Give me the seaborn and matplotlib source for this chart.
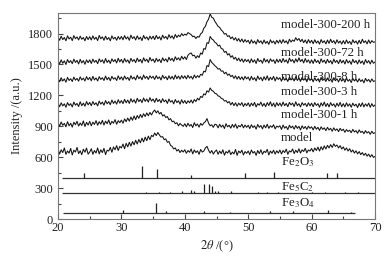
import numpy as np
import matplotlib
matplotlib.use("Agg")
import matplotlib.pyplot as plt
from matplotlib.ticker import MultipleLocator
import seaborn as sns

# 2theta grid, 0.25 deg steps
two_theta = np.arange(20, 70.001, 0.25)

model = [680, 630, 672, 645, 690, 628, 660, 640, 685, 622, 668, 650, 695, 635, 662, 625, 678, 648, 688, 630,
         650, 682, 628, 665, 640, 690, 632, 672, 645, 686, 625, 668, 660, 695, 648, 700, 672, 712, 665, 705,
         690, 728, 682, 735, 700, 745, 708, 752, 720, 765, 728, 772, 740, 785, 748, 795, 760, 805, 770, 812,
         800, 835, 810, 840, 815, 795, 800, 770, 778, 745, 752, 715, 705, 680, 690, 660, 675, 645, 668, 650,
         672, 638, 665, 648, 680, 632, 670, 645, 662, 628, 675, 650, 660, 690, 705, 668, 640, 665, 630, 655,
         670, 628, 660, 635, 672, 620, 655, 640, 668, 625, 650, 632, 675, 618, 660, 642, 668, 622, 655, 638,
         660, 625, 670, 640, 655, 618, 665, 635, 672, 628, 658, 645, 676, 622, 660, 638, 668, 630, 662, 640,
         670, 632, 665, 645, 678, 628, 662, 650, 680, 635, 668, 645, 682, 640, 672, 655, 686, 642, 670, 660,
         685, 652, 690, 665, 698, 660, 702, 672, 710, 680, 715, 690, 722, 695, 730, 705, 718, 690, 712, 680,
         700, 668, 690, 660, 682, 650, 670, 640, 662, 632, 655, 625, 645, 618, 638, 610, 630, 602, 625, 598,
         608]

h1 = [935, 900, 942, 910, 928, 895, 945, 905, 930, 892, 940, 915, 948, 902, 932, 908, 952, 898, 938, 912,
      948, 905, 940, 918, 955, 910, 945, 920, 958, 912, 950, 925, 962, 915, 948, 930, 965, 920, 955, 935,
      960, 930, 972, 945, 980, 950, 990, 958, 1000, 965, 1005, 978, 1015, 985, 1022, 995, 1030, 1002, 1035, 1010,
      1040, 1058, 1030, 1050, 1020, 1035, 1000, 1012, 985, 995, 962, 975, 945, 950, 925, 935, 905, 928, 912, 900,
      925, 895, 930, 902, 918, 888, 935, 905, 922, 892, 928, 910, 932, 945, 975, 930, 905, 915, 890, 920,
      915, 885, 920, 892, 912, 878, 925, 895, 910, 882, 918, 890, 922, 880, 908, 895, 920, 885, 912, 890,
      910, 878, 915, 888, 905, 872, 918, 890, 908, 875, 912, 885, 920, 880, 905, 890, 915, 875, 902, 892,
      905, 870, 912, 882, 898, 868, 910, 885, 902, 872, 908, 880, 900, 865, 905, 878, 898, 870, 902, 880,
      895, 865, 900, 872, 890, 860, 895, 870, 885, 858, 890, 865, 880, 852, 885, 860, 875, 848, 880, 858,
      872, 842, 868, 850, 862, 838, 870, 845, 858, 832, 865, 840, 852, 828, 858, 835, 848, 822, 852, 830,
      838]

h3 = [1125, 1090, 1128, 1098, 1118, 1085, 1130, 1102, 1120, 1088, 1135, 1105, 1122, 1092, 1138, 1100, 1125, 1095, 1140, 1108,
      1132, 1100, 1140, 1110, 1128, 1098, 1145, 1115, 1135, 1105, 1150, 1118, 1140, 1110, 1155, 1122, 1145, 1115, 1158, 1125,
      1150, 1120, 1162, 1128, 1155, 1122, 1168, 1135, 1158, 1125, 1172, 1140, 1160, 1130, 1175, 1142, 1165, 1135, 1178, 1145,
      1165, 1132, 1172, 1140, 1160, 1128, 1168, 1138, 1155, 1122, 1165, 1135, 1150, 1118, 1160, 1130, 1148, 1115, 1158, 1125,
      1150, 1120, 1148, 1128, 1155, 1125, 1160, 1140, 1172, 1155, 1190, 1180, 1215, 1205, 1245, 1232, 1272, 1248, 1240, 1220,
      1215, 1195, 1190, 1172, 1165, 1145, 1150, 1128, 1140, 1108, 1132, 1100, 1128, 1095, 1125, 1105, 1130, 1092, 1122, 1100,
      1128, 1092, 1125, 1100, 1132, 1088, 1120, 1105, 1135, 1095, 1122, 1090, 1130, 1102, 1138, 1095, 1125, 1088, 1130, 1100,
      1126, 1095, 1135, 1100, 1122, 1090, 1132, 1108, 1125, 1092, 1138, 1100, 1120, 1088, 1130, 1105, 1122, 1092, 1128, 1098,
      1125, 1090, 1130, 1102, 1120, 1085, 1128, 1098, 1135, 1092, 1122, 1088, 1130, 1100, 1118, 1086, 1125, 1095, 1132, 1090,
      1120, 1088, 1128, 1095, 1118, 1085, 1125, 1098, 1115, 1082, 1122, 1092, 1128, 1088, 1118, 1095, 1125, 1085, 1120, 1092,
      1108]

h8 = [1365, 1332, 1372, 1340, 1360, 1328, 1375, 1345, 1362, 1335, 1378, 1348, 1365, 1338, 1380, 1350, 1368, 1340, 1382, 1352,
      1375, 1342, 1385, 1350, 1370, 1340, 1382, 1355, 1372, 1345, 1388, 1352, 1375, 1342, 1385, 1358, 1372, 1345, 1390, 1355,
      1380, 1348, 1388, 1358, 1375, 1345, 1392, 1360, 1378, 1350, 1395, 1362, 1382, 1352, 1398, 1365, 1385, 1355, 1390, 1368,
      1385, 1355, 1392, 1362, 1380, 1350, 1395, 1365, 1382, 1352, 1390, 1360, 1385, 1355, 1398, 1362, 1388, 1358, 1392, 1365,
      1390, 1360, 1395, 1368, 1385, 1358, 1398, 1370, 1392, 1375, 1405, 1395, 1435, 1428, 1490, 1480, 1548, 1520, 1505, 1488,
      1475, 1455, 1460, 1435, 1438, 1410, 1425, 1395, 1408, 1382, 1395, 1365, 1390, 1358, 1385, 1355, 1380, 1350, 1385, 1360,
      1378, 1345, 1385, 1352, 1372, 1340, 1388, 1355, 1375, 1342, 1382, 1350, 1390, 1345, 1375, 1352, 1385, 1340, 1378, 1355,
      1372, 1338, 1380, 1348, 1365, 1335, 1378, 1350, 1368, 1340, 1382, 1345, 1370, 1336, 1375, 1348, 1365, 1332, 1378, 1345,
      1365, 1332, 1372, 1342, 1360, 1330, 1375, 1345, 1362, 1335, 1370, 1340, 1358, 1328, 1372, 1342, 1362, 1330, 1368, 1338,
      1360, 1328, 1368, 1338, 1355, 1325, 1365, 1340, 1358, 1330, 1362, 1335, 1352, 1322, 1365, 1338, 1355, 1328, 1360, 1335,
      1342]

h72 = [1540, 1505, 1545, 1512, 1535, 1500, 1548, 1518, 1538, 1508, 1552, 1520, 1540, 1505, 1550, 1515, 1538, 1502, 1545, 1518,
       1545, 1510, 1552, 1522, 1540, 1508, 1555, 1525, 1545, 1512, 1558, 1520, 1542, 1510, 1555, 1528, 1548, 1515, 1560, 1525,
       1550, 1515, 1558, 1525, 1545, 1512, 1560, 1530, 1548, 1518, 1562, 1528, 1550, 1515, 1565, 1532, 1552, 1520, 1568, 1535,
       1552, 1520, 1560, 1530, 1550, 1518, 1565, 1535, 1555, 1525, 1570, 1540, 1560, 1530, 1575, 1545, 1565, 1540, 1580, 1552,
       1575, 1548, 1590, 1605, 1612, 1585, 1590, 1562, 1585, 1568, 1612, 1600, 1655, 1648, 1712, 1705, 1772, 1748, 1738, 1715,
       1705, 1680, 1688, 1655, 1650, 1618, 1628, 1592, 1605, 1570, 1585, 1552, 1570, 1538, 1562, 1530, 1555, 1522, 1552, 1528,
       1548, 1515, 1555, 1522, 1545, 1510, 1558, 1528, 1542, 1512, 1560, 1525, 1548, 1515, 1555, 1530, 1545, 1510, 1552, 1522,
       1550, 1518, 1558, 1525, 1545, 1512, 1562, 1530, 1548, 1515, 1555, 1525, 1565, 1528, 1550, 1515, 1558, 1522, 1545, 1512,
       1545, 1510, 1552, 1520, 1540, 1508, 1555, 1522, 1542, 1510, 1550, 1518, 1538, 1505, 1552, 1520, 1540, 1508, 1548, 1515,
       1540, 1505, 1548, 1515, 1535, 1502, 1550, 1518, 1538, 1505, 1545, 1512, 1535, 1500, 1548, 1515, 1538, 1505, 1542, 1512,
       1525]

h200 = [1768, 1735, 1775, 1742, 1762, 1730, 1778, 1748, 1765, 1732, 1780, 1750, 1768, 1738, 1775, 1745, 1762, 1730, 1772, 1742,
        1770, 1738, 1778, 1745, 1765, 1732, 1782, 1750, 1768, 1735, 1775, 1742, 1762, 1730, 1778, 1748, 1765, 1735, 1772, 1745,
        1772, 1740, 1780, 1748, 1768, 1735, 1785, 1752, 1770, 1738, 1778, 1745, 1765, 1732, 1782, 1750, 1768, 1738, 1775, 1748,
        1775, 1742, 1782, 1750, 1770, 1738, 1785, 1755, 1772, 1745, 1790, 1758, 1778, 1748, 1792, 1762, 1785, 1770, 1800, 1780,
        1795, 1785, 1810, 1800, 1790, 1770, 1775, 1752, 1772, 1765, 1798, 1810, 1852, 1870, 1915, 1940, 1992, 1958, 1950, 1918,
        1895, 1870, 1860, 1835, 1820, 1795, 1800, 1772, 1780, 1750, 1768, 1738, 1760, 1728, 1752, 1720, 1748, 1715, 1742, 1718,
        1735, 1702, 1740, 1708, 1728, 1698, 1742, 1712, 1730, 1700, 1738, 1705, 1725, 1695, 1740, 1710, 1728, 1698, 1735, 1708,
        1738, 1705, 1742, 1712, 1730, 1700, 1745, 1718, 1738, 1725, 1760, 1735, 1752, 1722, 1745, 1712, 1738, 1705, 1742, 1710,
        1735, 1702, 1740, 1708, 1728, 1698, 1742, 1712, 1730, 1700, 1738, 1705, 1745, 1712, 1732, 1700, 1740, 1708, 1728, 1698,
        1732, 1700, 1738, 1705, 1725, 1695, 1740, 1710, 1728, 1698, 1735, 1702, 1745, 1712, 1730, 1700, 1738, 1705, 1732, 1715,
        1720]

curves = [model, h1, h3, h8, h72, h200]
curve_names = ["model", "model-300-1 h", "model-300-3 h", "model-300-8 h",
               "model-300-72 h", "model-300-200 h"]
curve_label_y = [786, 1010, 1233, 1379, 1612, 1883]

# reference patterns (stick positions, stick heights above baseline)
fe2o3_pos = [24.1, 33.2, 35.6, 40.9, 49.5, 54.1, 62.4, 64.0]
fe2o3_h = [45, 113, 84, 29, 48, 55, 45, 45]
fe2o3_base = 400
fe2o3_span = [20.6, 70]

fe5c2_pos = [33.9, 36.0, 37.6, 39.5, 41.0, 41.4, 43.1, 43.8, 44.3, 44.7,
             45.2, 47.3, 51.5, 52.9, 54.7, 60.0, 62.1, 65.2, 67.3]
fe5c2_h = [10, 10, 10, 25, 35, 20, 90, 90, 75, 25,
           20, 25, 10, 10, 10, 15, 15, 15, 10]
fe5c2_base = 250
fe5c2_span = [20.6, 70]

fe3o4_pos = [30.2, 35.5, 37.1, 43.1, 47.1, 53.4, 57.0, 62.6, 66.2]
fe3o4_h = [29, 100, 20, 26, 13, 20, 20, 36, 10]
fe3o4_base = 55
fe3o4_span = [20.8, 66.8]

ref_names = [r"Fe$_2$O$_3$", r"Fe$_5$C$_2$", r"Fe$_3$O$_4$"]
ref_label_y = [553, 310, 155]
label_x = 55.2

sns.set_theme(style="ticks")
plt.rcParams['font.family'] = ['Liberation Serif', 'DejaVu Serif']
plt.rcParams['mathtext.fontset'] = 'stix'

fig = plt.figure(figsize=(3.89, 2.57), dpi=100)
ax = fig.add_axes([58/389, 1 - 219/257, (375 - 58)/389, (219 - 13)/257])

for ys in curves:
    sns.lineplot(x=two_theta, y=ys, ax=ax, color="#111111", linewidth=0.75)

refs = [(fe2o3_pos, fe2o3_h, fe2o3_base, fe2o3_span),
        (fe5c2_pos, fe5c2_h, fe5c2_base, fe5c2_span),
        (fe3o4_pos, fe3o4_h, fe3o4_base, fe3o4_span)]
for pos, h, base, span in refs:
    ax.hlines(base, span[0], span[1], color="#333333", lw=0.9)
    ax.vlines(pos, base, np.array(h) + base, color="#222222", lw=0.9)

for name, yy in zip(curve_names, curve_label_y):
    ax.text(label_x, yy, name, fontsize=9.3, va="center", ha="left", color="#222222")
for name, yy in zip(ref_names, ref_label_y):
    ax.text(label_x, yy, name, fontsize=9.3, va="center", ha="left", color="#222222")

ax.set_xlim(20, 70)
ax.set_ylim(0, 2000)
ax.xaxis.set_major_locator(MultipleLocator(10))
ax.xaxis.set_minor_locator(MultipleLocator(5))
ax.yaxis.set_major_locator(MultipleLocator(300))
ax.yaxis.set_minor_locator(MultipleLocator(150))
ax.tick_params(which="both", direction="in", labelsize=9, colors="#444444",
               labelcolor="#222222", width=0.8)
ax.tick_params(axis="y", pad=3.5)
ax.tick_params(axis="x", pad=2.5)
ax.tick_params(which="major", length=3.5)
ax.tick_params(which="minor", length=2)
for s in ax.spines.values():
    s.set_color("#777777")
    s.set_linewidth(0.8)

ax.set_xlabel(r"$2\theta$ /(°)", fontsize=9, color="#222222", labelpad=3)
ax.set_ylabel("Intensity /(a.u.)", fontsize=9, color="#222222", labelpad=4)

fig.savefig("out.png", dpi=100)
